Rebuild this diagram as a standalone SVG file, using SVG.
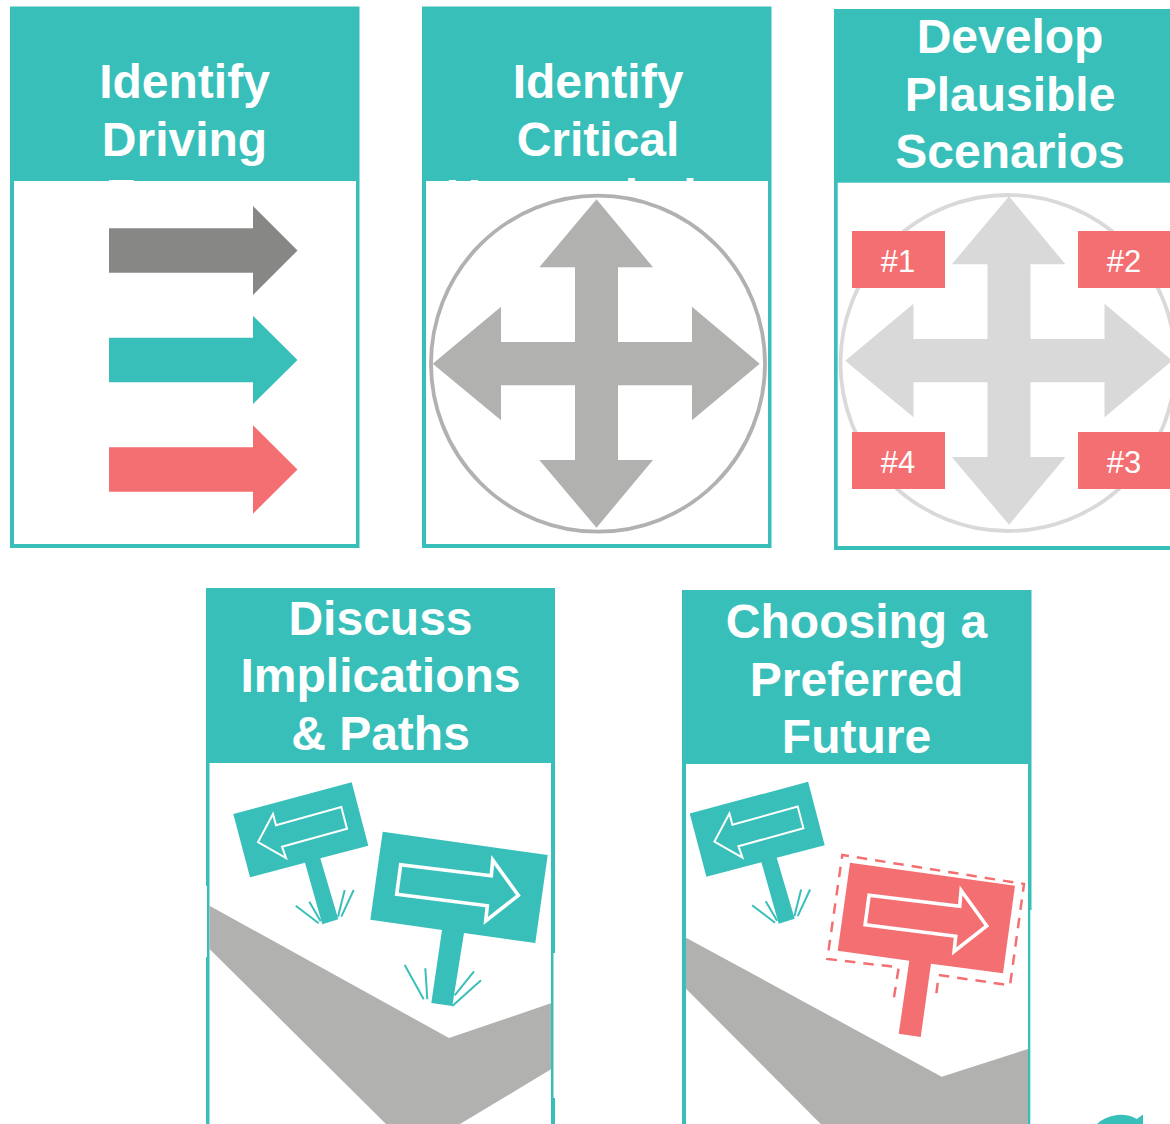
<svg xmlns="http://www.w3.org/2000/svg" width="1170" height="1124" viewBox="0 0 1170 1124">
<style>
.teal{fill:#38bfba}.red{fill:#f46f72}.panel{fill:#fff}
.title{font-family:"Liberation Sans",Arial,sans-serif;font-weight:700;font-size:48px;fill:#fff;text-anchor:middle}
.tag{font-family:"Liberation Sans",Arial,sans-serif;font-size:31px;fill:#fff;text-anchor:middle}
.road{fill:#b1b1af}
.grass{stroke:#38bfba;stroke-width:2;fill:none}
.sl{fill:none;stroke:#fff;stroke-width:2}
.sr{fill:none;stroke:#fff;stroke-width:3.6}
</style>
<defs>
<path id="cross" d="M596.5 199.3L653 267.3H618V342H692V306.7L759.7 363.7L692 420.3V385.3H618V460H653L596.5 527.7L539.3 460H575V385.3H501V420.3L432.7 363.7L501 306.7V342H575V267.3H539.3Z"/>
<g id="smallsign">
<path class="teal" d="M233.3 814L351.7 782.3L368.3 845.7L320.3 858.3L338.3 919.3L322.3 924.3L305 862.7L250 877.3Z"/>
<path class="sl" d="M341.3 807L347 828.7L282 846.7L286 858L258 842L273 814L276 825.3Z"/>
<path class="grass" d="M295.7 905.7L318.7 923.3M309.3 901.7L320.7 921.3M344.7 890L338 916.7M353.7 890L341.3 916.7"/>
</g>
<path id="bigarrow" class="sr" d="M400.7 864.7L491.3 875.7L492.7 860L518.3 895.3L485.7 921L487.3 905.7L396.7 894.3Z"/>
</defs>
<rect width="1170" height="1124" fill="#fff"/>

<g id="node-identify-driving-forces">
<rect class="teal" x="10" y="6.5" width="349.5" height="541.5"/>
<text class="title" x="184.5" y="98">Identify</text>
<text class="title" x="184.5" y="156">Driving</text>
<text class="title" x="184.5" y="212.5">Forces</text>
<rect class="panel" x="14" y="181" width="342" height="363"/>
<path fill="#878785" d="M109 228.3H253V206L297.5 250.5L253 295V272.7H109Z"/>
<path class="teal" d="M109 337.7H253V315.7L297.5 360L253 404V382.3H109Z"/>
<path class="red" d="M109 447.3H253V425.3L297.5 469.5L253 513.7V491.7H109Z"/>
</g>

<g id="node-identify-critical-uncertainties">
<rect class="teal" x="422" y="6.5" width="349.5" height="541.5"/>
<text class="title" x="598" y="98">Identify</text>
<text class="title" x="598" y="156">Critical</text>
<text class="title" x="598" y="212.5">Uncertainties</text>
<rect class="panel" x="426" y="181" width="342" height="363"/>
<ellipse cx="598" cy="363.7" rx="167" ry="168" fill="none" stroke="#b1b1af" stroke-width="3.8"/>
<use href="#cross" fill="#b1b1af"/>
</g>

<g id="node-develop-plausible-scenarios">
<rect class="teal" x="834" y="9" width="336" height="541"/>
<text class="title" x="1010" y="53">Develop</text>
<text class="title" x="1010" y="111">Plausible</text>
<text class="title" x="1010" y="168">Scenarios</text>
<rect class="panel" x="837.7" y="182.7" width="332.3" height="363.3"/>
<ellipse cx="1008" cy="363" rx="167.5" ry="168" fill="none" stroke="#d9d9d9" stroke-width="3.8"/>
<use href="#cross" fill="#d9d9d9" transform="translate(412.5 -3)"/>
<rect class="red" x="852" y="231" width="93" height="57"/>
<rect class="red" x="1078" y="231" width="92" height="57"/>
<rect class="red" x="852" y="432" width="93" height="57"/>
<rect class="red" x="1078" y="432" width="92" height="57"/>
<text class="tag" x="898" y="272">#1</text>
<text class="tag" x="1124" y="272">#2</text>
<text class="tag" x="898" y="473">#4</text>
<text class="tag" x="1124" y="473">#3</text>
</g>

<g id="node-discuss-implications-paths">
<rect class="teal" x="206" y="588" width="349" height="536"/>
<text class="title" x="380.5" y="635">Discuss</text>
<text class="title" x="380.5" y="692">Implications</text>
<text class="title" x="380.5" y="750">&amp; Paths</text>
<rect class="panel" x="209.5" y="763" width="341.5" height="361"/>
<rect class="panel" x="205" y="886" width="2" height="71"/>
<rect class="panel" x="553.5" y="953" width="2.5" height="145"/>
<path class="road" d="M209.5 905.7L449 1038L551 1003.3V1069.3L460 1124H386L209.5 949Z"/>
<use href="#smallsign"/>
<path class="teal" d="M382.7 831.7L547.7 855L535.3 943L464 933L452.3 1006L431.3 1003L442 930L370.3 919.7Z"/>
<use href="#bigarrow"/>
<path class="grass" d="M404.7 965L423.7 999.3M425.3 968.3L427.3 999.3M474 971.3L454.7 995.3M481 980.3L452.3 1006"/>
</g>

<g id="node-choosing-preferred-future">
<rect class="teal" x="682" y="590" width="349.5" height="534"/>
<text class="title" x="856.5" y="638">Choosing a</text>
<text class="title" x="856.5" y="696">Preferred</text>
<text class="title" x="856.5" y="753">Future</text>
<rect class="panel" x="686" y="764" width="342" height="360"/>
<rect class="panel" x="1030.3" y="910" width="2" height="214"/>
<path class="road" d="M686 937.7L941.7 1076.7L1028 1049V1124H820.7L686 988.7Z"/>
<use href="#smallsign" transform="translate(456.4 -0.5)"/>
<path class="red" d="M850 862.7L1015 885.7L1003 973.3L931 963.7L920.7 1037L898.7 1033.7L909.3 960.7L837.7 950.7Z"/>
<use href="#bigarrow" transform="translate(468.4 30.5)"/>
<path fill="none" stroke="#f46f72" stroke-width="2.5" stroke-dasharray="10.5 8" d="M894 997.3L898.7 967.3L827.3 959L842.3 855L1024 884L1010 985.3L938.7 975L935.7 998.7"/>
</g>

<path id="corner-mark" class="teal" d="M1097 1124Q1104 1117 1117 1115Q1128 1114 1136.7 1119L1143 1114.5V1124Z"/>
</svg>
